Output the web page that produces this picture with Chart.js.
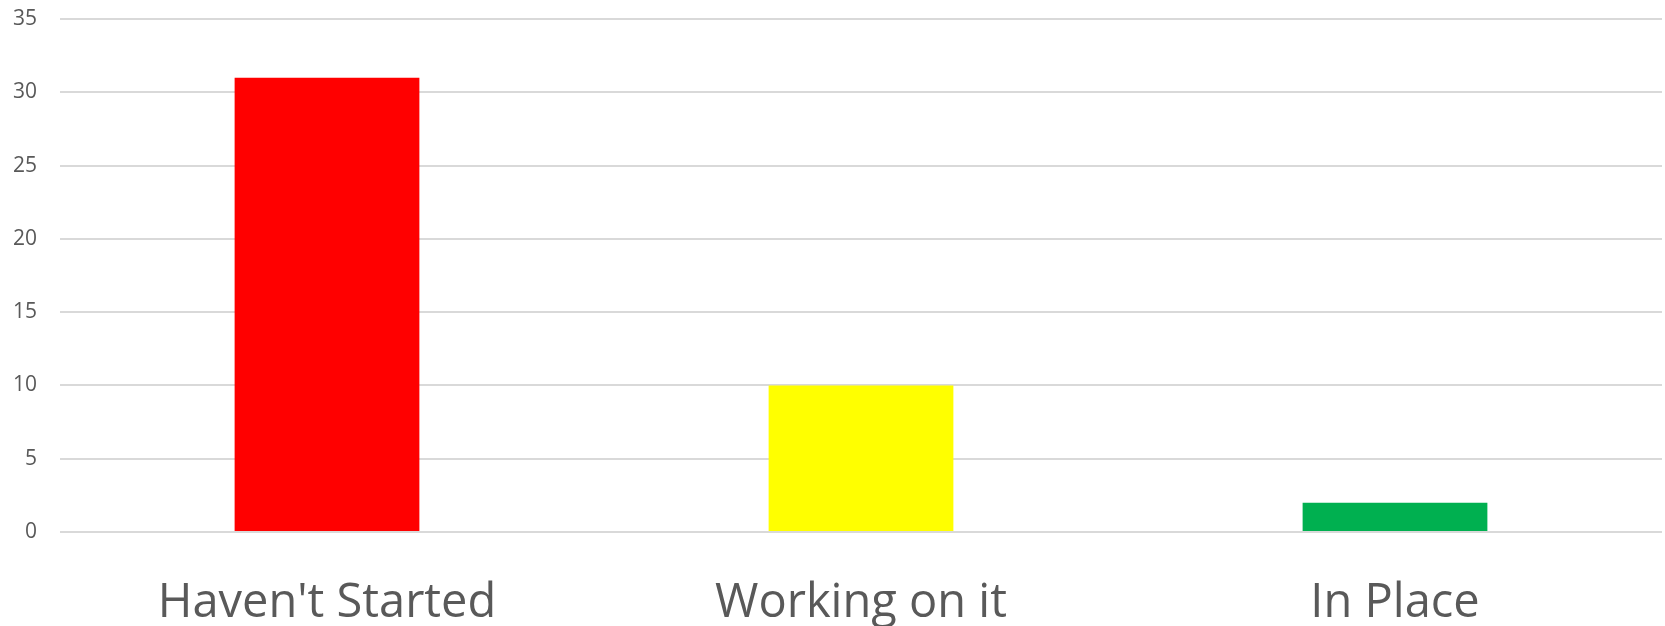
<!DOCTYPE html>
<html>
<head>
<meta charset="utf-8">
<script src="https://cdn.jsdelivr.net/npm/chart.js@4/dist/chart.umd.min.js"></script>
<style>
  html, body { margin: 0; padding: 0; background: #fff; }
  #wrap { width: 1665px; height: 626px; }
</style>
</head>
<body>
<div id="wrap"><canvas id="statusChart" width="1665" height="626"></canvas></div>
<script>
var categories = ["Haven't Started", "Working on it", "In Place"];
var counts = [31, 10, 2];
var barColors = ['#ff0000', '#ffff00', '#00b050'];
var yTicks = [0, 5, 10, 15, 20, 25, 30, 35];

const ctx = document.getElementById('statusChart').getContext('2d');
const statusChart = new Chart(ctx, {
    type: 'bar',
    data: {
        labels: categories,
        datasets: [
            {
                label: 'Count',
                data: counts,
                backgroundColor: barColors,
                borderWidth: 0,
                categoryPercentage: 1,
                barPercentage: 0.346
            }
        ]
    },
    options: {
        responsive: false,
        animation: false,
        layout: { padding: { top: 19, right: 3, left: 0, bottom: 0 } },
        plugins: {
            legend: { display: false },
            tooltip: { enabled: false }
        },
        scales: {
            x: {
                grid: { display: false },
                border: { display: false },
                ticks: {
                    color: '#595959',
                    padding: 35,
                    font: { family: 'Open Sans', size: 47 }
                },
                afterFit: (axis) => { axis.height = 94; }
            },
            y: {
                min: 0,
                max: 35,
                afterBuildTicks: (axis) => { axis.ticks = yTicks.map(v => ({ value: v })); },
                grid: { color: '#d9d9d9', lineWidth: 2, drawTicks: false },
                border: { display: false },
                ticks: {
                    color: '#595959',
                    padding: 23,
                    font: { family: 'Open Sans', size: 21 }
                },
                afterFit: (axis) => {
                    // fixed axis width; top label may sit in the padding
                    axis.width = 60;
                    axis.paddingTop = 0;
                    axis.paddingBottom = 0;
                }
            }
        }
    }
});
</script>
</body>
</html>
